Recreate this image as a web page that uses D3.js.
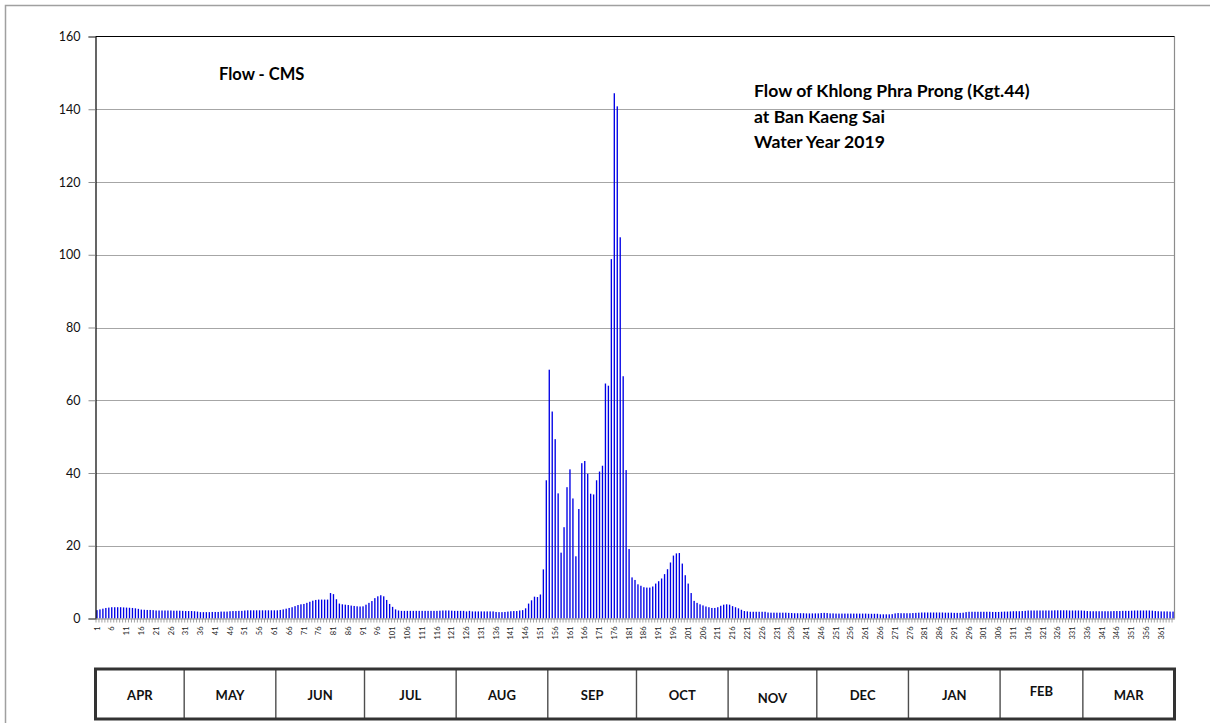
<!DOCTYPE html>
<html>
<head>
<meta charset="utf-8">
<script src="https://cdn.jsdelivr.net/npm/d3@7"></script>
<style>
  html, body { margin: 0; padding: 0; background: #fff; }
  svg { display: block; font-family: Lato, "Open Sans", "Liberation Sans", sans-serif; }
</style>
</head>
<body>
<svg id="chart" width="1210" height="723"></svg>
<script>
// ---------------- data ----------------
const days = d3.range(1, 366);            // day of water year (1 Apr 2019 = 1)
const flow = [
  2.3, 2.5, 2.7, 2.9, 3.0, 3.1, 3.1, 3.1, 3.1, 3.05,
  3.0, 2.95, 2.9, 2.8, 2.65, 2.45, 2.4, 2.35, 2.35, 2.3,
  2.2, 2.2, 2.2, 2.2, 2.2, 2.2, 2.15, 2.15, 2.15, 2.1,
  2.05, 2.05, 2.05, 2.0, 1.9, 1.75, 1.75, 1.75, 1.75, 1.8,
  1.8, 1.8, 1.9, 1.9, 1.9, 2.0, 2.05, 2.05, 2.1, 2.1,
  2.2, 2.25, 2.25, 2.25, 2.25, 2.25, 2.25, 2.25, 2.25, 2.25,
  2.25, 2.25, 2.35, 2.5, 2.7, 2.9, 3.1, 3.4, 3.7, 3.9,
  4.0, 4.3, 4.6, 4.9, 5.1, 5.2, 5.2, 5.2, 5.2, 7.0,
  6.7, 5.3, 4.1, 3.9, 3.8, 3.7, 3.55, 3.45, 3.35, 3.3,
  3.35, 3.8, 4.3, 4.8, 5.6, 6.1, 6.4, 6.1, 5.1, 4.0,
  3.2, 2.5, 2.2, 2.1, 2.1, 2.1, 2.1, 2.1, 2.1, 2.1,
  2.1, 2.1, 2.1, 2.1, 2.1, 2.1, 2.15, 2.2, 2.2, 2.2,
  2.15, 2.1, 2.1, 2.1, 2.1, 1.95, 2.1, 1.95, 1.95, 1.95,
  1.95, 1.95, 1.95, 1.95, 1.95, 1.8, 1.75, 1.75, 1.8, 1.9,
  2.0, 2.05, 2.05, 2.2, 2.3, 2.8, 4.1, 5.0, 6.0, 5.9,
  6.6, 13.5, 38.0, 68.4, 56.9, 49.3, 34.4, 18.1, 25.1, 36.1,
  41.0, 33.0, 17.1, 30.1, 42.7, 43.3, 39.8, 34.3, 34.1, 38.0,
  40.4, 42.0, 64.6, 64.0, 98.8, 144.4, 140.8, 104.8, 66.6, 40.8,
  19.1, 11.3, 10.6, 9.4, 9.0, 8.6, 8.5, 8.5, 8.8, 9.6,
  10.25, 11.0, 12.2, 13.55, 15.4, 17.3, 17.9, 18.0, 15.1, 11.9,
  9.6, 7.0, 4.85, 4.3, 3.9, 3.6, 3.3, 3.1, 2.9, 2.9,
  3.1, 3.5, 3.8, 3.9, 3.8, 3.4, 3.1, 2.8, 2.4, 2.05,
  1.95, 1.85, 1.85, 1.85, 1.85, 1.85, 1.85, 1.65, 1.6, 1.6,
  1.6, 1.6, 1.6, 1.6, 1.55, 1.5, 1.45, 1.45, 1.45, 1.45,
  1.4, 1.4, 1.4, 1.4, 1.4, 1.5, 1.55, 1.5, 1.4, 1.4,
  1.35, 1.35, 1.35, 1.35, 1.35, 1.35, 1.35, 1.35, 1.35, 1.35,
  1.35, 1.3, 1.3, 1.3, 1.3, 1.15, 1.15, 1.15, 1.15, 1.2,
  1.4, 1.5, 1.45, 1.45, 1.45, 1.45, 1.5, 1.55, 1.6, 1.65,
  1.65, 1.65, 1.65, 1.65, 1.65, 1.65, 1.65, 1.6, 1.6, 1.6,
  1.55, 1.55, 1.55, 1.6, 1.75, 1.85, 1.85, 1.85, 1.85, 1.85,
  1.85, 1.85, 1.85, 1.8, 1.8, 1.8, 1.85, 1.9, 1.9, 1.95,
  2.0, 2.0, 2.0, 2.05, 2.1, 2.2, 2.2, 2.2, 2.2, 2.2,
  2.2, 2.2, 2.2, 2.2, 2.25, 2.25, 2.25, 2.25, 2.25, 2.2,
  2.2, 2.2, 2.2, 2.2, 2.15, 2.05, 2.0, 2.0, 2.0, 2.0,
  2.0, 2.0, 2.0, 2.0, 2.05, 2.05, 2.05, 2.1, 2.1, 2.1,
  2.15, 2.2, 2.2, 2.2, 2.2, 2.2, 2.2, 2.15, 2.05, 2.0,
  1.95, 1.95, 1.95, 1.9, 1.9
];
const yTicks = [0, 20, 40, 60, 80, 100, 120, 140, 160];
const xTickLabels = d3.range(1, 366, 5);   // 1, 6, 11, ... 361
const months = ["APR", "MAY", "JUN", "JUL", "AUG", "SEP", "OCT", "NOV", "DEC", "JAN", "FEB", "MAR"];
const monthDays = [30, 31, 30, 31, 31, 30, 31, 30, 31, 31, 28, 31];
const chartTitle = ["Flow of Khlong Phra Prong (Kgt.44)", "at Ban Kaeng Sai", "Water Year 2019"];
const unitLabel = "Flow - CMS";

// ---------------- layout ----------------
const svg = d3.select("#chart");
const L = 95.5, R = 1174.5, T = 36.5, B = 618.5;

const x = d3.scaleBand().domain(days).range([L, R]).padding(0);
const y = d3.scaleLinear().domain([0, 160]).range([B, T]);

// outer frame
svg.append("rect")
  .attr("x", 5.5).attr("y", 5.5).attr("width", 1230).attr("height", 740)
  .attr("fill", "none").attr("stroke", "#a0a0a0").attr("stroke-width", 1.5);

// gridlines
svg.append("g").selectAll("line")
  .data(yTicks.filter(v => v > 0 && v < 160))
  .join("line")
  .attr("x1", L).attr("x2", R)
  .attr("y1", d => Math.round(y(d)) + 0.5).attr("y2", d => Math.round(y(d)) + 0.5)
  .attr("stroke", "#a6a6a6").attr("stroke-width", 1);

// right border (gray) and top border (black)
svg.append("line").attr("x1", R).attr("x2", R).attr("y1", T).attr("y2", B)
  .attr("stroke", "#8c8c8c").attr("stroke-width", 1.2);
svg.append("line").attr("x1", L).attr("x2", R).attr("y1", T).attr("y2", T)
  .attr("stroke", "#000").attr("stroke-width", 1.2);

// bars
const bw = 1.35;
svg.append("g").selectAll("rect")
  .data(days)
  .join("rect")
  .attr("x", d => x(d) + x.bandwidth() / 2 - bw / 2)
  .attr("width", bw)
  .attr("y", (d, i) => y(flow[i]))
  .attr("height", (d, i) => y(0) - y(flow[i]))
  .attr("fill", "#0000e6");

// y axis
const yAxis = d3.axisLeft(y).tickValues(yTicks).tickSize(7).tickPadding(8);
const gy = svg.append("g").attr("transform", `translate(${L},0)`).call(yAxis);
gy.select(".domain").attr("stroke", "#000").attr("stroke-width", 1.2);
gy.selectAll(".tick line").attr("stroke", "#8c8c8c");
gy.selectAll(".tick text").attr("font-size", "12.5px").attr("fill", "#111")
  .attr("font-family", "Lato, sans-serif");

// x axis
const xAxis = d3.axisBottom(x).tickValues(xTickLabels).tickSize(0).tickPadding(0);
const gx = svg.append("g").attr("transform", `translate(0,${B})`).call(xAxis);
gx.select(".domain").attr("stroke", "#8c8c8c").attr("stroke-width", 1.2);
gx.selectAll(".tick text")
  .attr("font-size", "7.5px").attr("fill", "#222")
  .attr("font-family", "Lato, sans-serif")
  .attr("text-anchor", "end")
  .attr("transform", "rotate(-90)")
  .attr("x", -8).attr("y", 0).attr("dy", "0.35em");
// dense tick marks at each day boundary
svg.append("g").selectAll("line")
  .data(days)
  .join("line")
  .attr("x1", d => x(d) + 0.5).attr("x2", d => x(d) + 0.5)
  .attr("y1", B).attr("y2", B + 4)
  .attr("stroke", "#8c8c8c").attr("stroke-width", 0.8);

// texts
svg.append("text").attr("x", 219).attr("y", 80)
  .attr("font-size", "16.5px").attr("font-weight", "bold").attr("fill", "#000")
  .text(unitLabel);
svg.append("g").selectAll("text")
  .data(chartTitle)
  .join("text")
  .attr("x", 754).attr("y", (d, i) => 97 + i * 25.5)
  .attr("font-size", "17.6px").attr("font-weight", "bold").attr("fill", "#000")
  .text(d => d);

// month table
const tY = 669, tH = 50;
const cum = [0];
monthDays.forEach(n => cum.push(cum[cum.length - 1] + n));
const edgeX = k => (k >= days.length ? R : x(days[k]));
const mt = svg.append("g");
mt.selectAll("line")
  .data(cum.slice(1, -1))
  .join("line")
  .attr("x1", d => edgeX(d)).attr("x2", d => edgeX(d))
  .attr("y1", tY).attr("y2", tY + tH)
  .attr("stroke", "#4d4d4d").attr("stroke-width", 1.4);
mt.append("rect").attr("x", L).attr("y", tY).attr("width", R - L).attr("height", tH)
  .attr("fill", "none").attr("stroke", "#333").attr("stroke-width", 3);
const monthShift = { NOV: 3, FEB: -4 };
mt.selectAll("text")
  .data(months)
  .join("text")
  .attr("x", (d, i) => (edgeX(cum[i]) + edgeX(cum[i + 1])) / 2)
  .attr("y", d => 700 + (monthShift[d] || 0))
  .attr("text-anchor", "middle")
  .attr("font-size", "13px").attr("font-weight", "bold").attr("fill", "#111")
  .text(d => d);
</script>
</body>
</html>
